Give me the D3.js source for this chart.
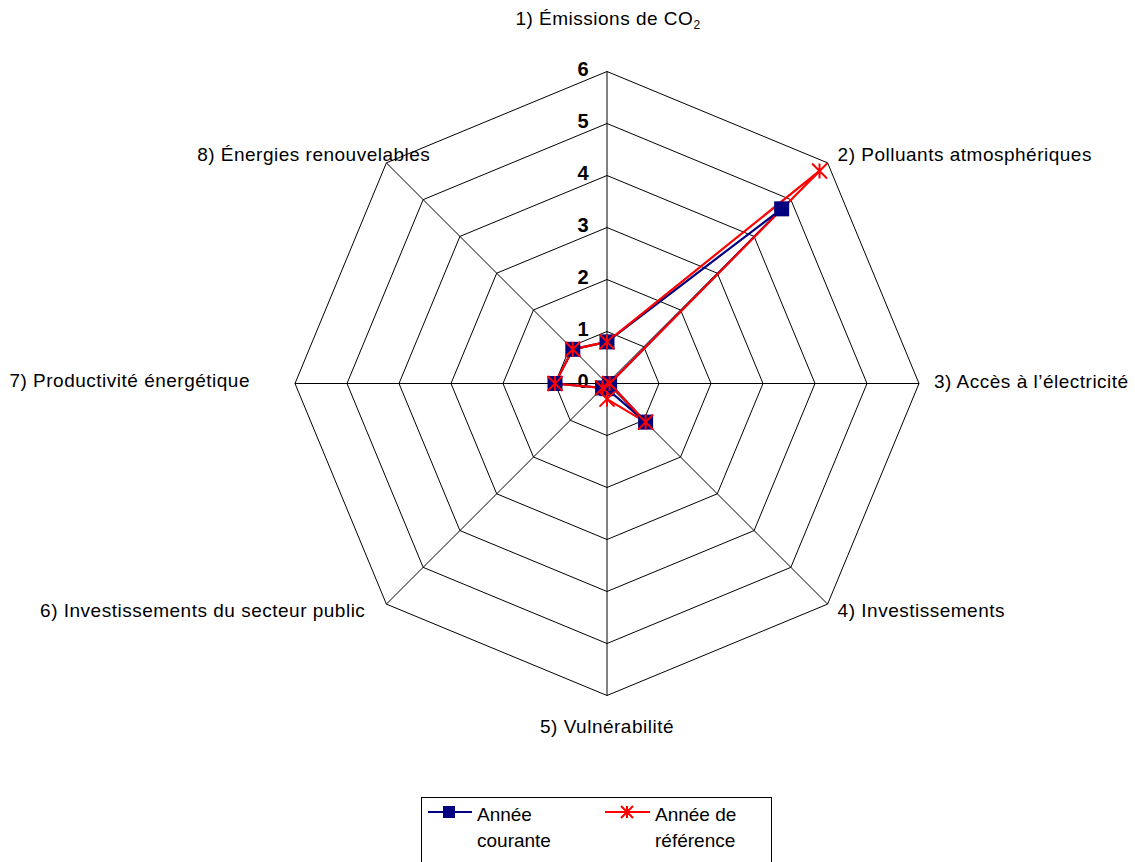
<!DOCTYPE html>
<html><head><meta charset="utf-8">
<script src="https://cdn.jsdelivr.net/npm/d3@7"></script>
<style>body{margin:0;background:#fff}svg{display:block;font-family:"Liberation Sans",Arial,sans-serif}</style>
</head><body><svg id="c" width="1135" height="862"></svg>
<script>
const categories=["1) Émissions de CO2","2) Polluants atmosphériques","3) Accès à l’électricité","4) Investissements","5) Vulnérabilité","6) Investissements du secteur public","7) Productivité énergétique","8) Énergies renouvelables"];
const current=[0.8,4.75,0.05,1.05,0.1,0.12,1.0,0.93];
const reference=[0.8,5.78,0.05,1.05,0.3,0.12,1.0,0.93];
const ticks=[0,1,2,3,4,5,6];
const seriesNames=["Année courante","Année de référence"];

const svg=d3.select("#c");
const cx=607,cy=383.5,R=312;
const r=d3.scaleLinear().domain([0,6]).range([0,R]);
const n=categories.length;
const ang=i=>i*2*Math.PI/n;
const pt=(i,v)=>[cx+r(v)*Math.sin(ang(i)),cy-r(v)*Math.cos(ang(i))];

const g=svg.append("g");
ticks.slice(1).forEach(t=>{
  g.append("polygon").attr("points",d3.range(n).map(i=>pt(i,t).join(",")).join(" "))
   .attr("fill","none").attr("stroke","#000").attr("stroke-width",1);
});
d3.range(n).forEach(i=>{
  const p=pt(i,6);
  g.append("line").attr("x1",cx).attr("y1",cy).attr("x2",p[0]).attr("y2",p[1]).attr("stroke","#000").attr("stroke-width",1);
});
// tick labels
ticks.forEach(t=>{
  g.append("text").attr("x",cx-24).attr("y",cy-r(t)+4).attr("text-anchor","middle")
   .attr("font-size",20).attr("font-weight","bold").text(t);
});
// category labels
const lab=[
 {a:"middle",dx:1,dy:-47},{a:"start",dx:10,dy:-2},{a:"start",dx:15,dy:4.5},{a:"start",dx:10,dy:13},
 {a:"middle",dx:0,dy:37.5},{a:"end",dx:-21,dy:13},{a:"end",dx:-45,dy:3.5},{a:"end",dx:44,dy:-2}];
categories.forEach((c,i)=>{
  const p=pt(i,6),L=lab[i];
  const t=g.append("text").attr("x",p[0]+L.dx).attr("y",p[1]+L.dy).attr("text-anchor",L.a)
    .attr("font-size",19).attr("letter-spacing","0.5px");
  if(c.endsWith("CO2")){t.append("tspan").text(c.slice(0,-1));t.append("tspan").attr("font-size",12).attr("dy",4).text("2");}
  else t.text(c);
});
function square(sel,x,y,s){sel.append("rect").attr("x",x-s/2).attr("y",y-s/2).attr("width",s).attr("height",s).attr("fill","#000080");}
function star(sel,x,y,s){const h=s/2;
  sel.append("path").attr("d",`M${x-h},${y-h}L${x+h},${y+h}M${x-h},${y+h}L${x+h},${y-h}M${x},${y-h}L${x},${y+h}`)
   .attr("stroke","#ff0000").attr("stroke-width",2).attr("fill","none");}
const line=d3.line().curve(d3.curveLinearClosed);
// series lines
g.append("path").attr("d",line(current.map((v,i)=>pt(i,v)))).attr("fill","none").attr("stroke","#000080").attr("stroke-width",2.2);
g.append("path").attr("d",line(reference.map((v,i)=>pt(i,v)))).attr("fill","none").attr("stroke","#ff0000").attr("stroke-width",2.2);
current.forEach((v,i)=>{const p=pt(i,v);square(g,p[0],p[1],15);});
reference.forEach((v,i)=>{const p=pt(i,v);star(g,p[0],p[1],15);});
// legend
const lg=svg.append("g");
lg.append("rect").attr("x",421.5).attr("y",797.5).attr("width",350).attr("height",80).attr("fill","none").attr("stroke","#000");
lg.append("line").attr("x1",428).attr("x2",472).attr("y1",812).attr("y2",812).attr("stroke","#000080").attr("stroke-width",2);
square(lg,449,812,12);
lg.append("text").attr("x",477).attr("y",821).attr("font-size",19).text(seriesNames[0].split(" ")[0]);
lg.append("text").attr("x",477).attr("y",847).attr("font-size",19).text(seriesNames[0].split(" ")[1]);
lg.append("line").attr("x1",605).attr("x2",650).attr("y1",812).attr("y2",812).attr("stroke","#ff0000").attr("stroke-width",2);
star(lg,627,812,12);
lg.append("text").attr("x",655).attr("y",821).attr("font-size",19).text("Année de");
lg.append("text").attr("x",655).attr("y",847).attr("font-size",19).text("référence");
</script></body></html>
